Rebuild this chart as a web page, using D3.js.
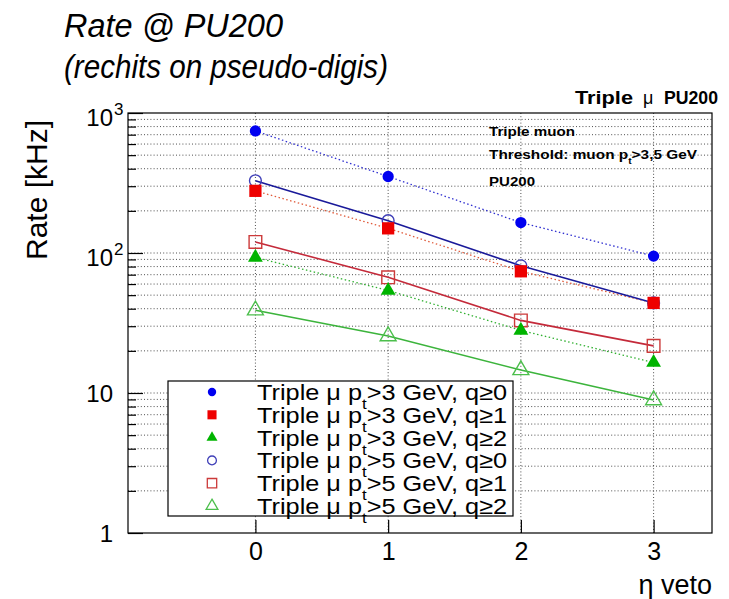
<!DOCTYPE html>
<html lang="en">
<head>
<meta charset="UTF-8">
<script src="https://d3js.org/d3.v7.min.js"></script>
<style>
  body { margin: 0; background: #fff; }
  text { font-family: "Liberation Sans", Arial, sans-serif; }
</style>
</head>
<body>
<script>
  // data
  const etaVeto = [0, 1, 2, 3];
  const pt3q0 = [745, 352, 165, 95];
  const pt3q1 = [278, 150, 74, 44];
  const pt3q2 = [93, 54, 28, 16.5];
  const pt5q0 = [328, 170, 81, 44];
  const pt5q1 = [120, 67, 33, 21.7];
  const pt5q2 = [39, 25.5, 14.6, 8.9];
  const seriesLabels = [
    ["3", "0"], ["3", "1"], ["3", "2"],
    ["5", "0"], ["5", "1"], ["5", "2"]
  ];
  const xTicks = [0, 1, 2, 3];
  const yMajor = [1, 10, 100, 1000];

  const W = 729, H = 599;
  const frame = { left: 128, right: 712, top: 113, bottom: 533 };

  const svg = d3.select("body").append("svg")
    .attr("width", W).attr("height", H);
  svg.append("rect").attr("width", W).attr("height", H).attr("fill", "#fff");

  const x = d3.scaleLinear().domain([-0.96, 3.44]).range([frame.left, frame.right]);
  const y = d3.scaleLog().domain([1, 1000]).range([frame.bottom, frame.top]);

  // all log ticks
  const yMinor = [];
  [1, 10, 100].forEach(d => { for (let k = 2; k <= 9; k++) yMinor.push(d * k); });

  // grid
  const grid = svg.append("g").attr("stroke", "#222").attr("stroke-width", 0.8)
    .attr("stroke-dasharray", "1,2.2");
  grid.selectAll(".hg").data(yMinor.concat([10, 100])).join("line")
    .attr("x1", frame.left).attr("x2", frame.right)
    .attr("y1", d => y(d)).attr("y2", d => y(d));
  grid.selectAll(".vg").data(xTicks).join("line")
    .attr("x1", d => x(d)).attr("x2", d => x(d))
    .attr("y1", frame.top).attr("y2", frame.bottom);

  // frame
  svg.append("rect")
    .attr("x", frame.left).attr("y", frame.top)
    .attr("width", frame.right - frame.left).attr("height", frame.bottom - frame.top)
    .attr("fill", "none").attr("stroke", "#000").attr("stroke-width", 1.2);

  // y ticks (inside, from left edge)
  const yMajAxis = svg.append("g").attr("transform", `translate(${frame.left},0)`)
    .call(d3.axisRight(y).tickValues(yMajor).tickSize(15).tickFormat(""));
  const yMinAxis = svg.append("g").attr("transform", `translate(${frame.left},0)`)
    .call(d3.axisRight(y).tickValues(yMinor).tickSize(8).tickFormat(""));
  [yMajAxis, yMinAxis].forEach(g => {
    g.select(".domain").remove();
    g.selectAll("line").attr("stroke", "#000").attr("stroke-width", 1.2);
  });

  // y labels with exponents
  const yLab = svg.append("g").attr("font-size", 24).attr("fill", "#000");
  yMajor.forEach(v => {
    const e = Math.round(Math.log10(v));
    const base = e <= 1 ? String(v) : "10";
    yLab.append("text").attr("x", 113).attr("y", y(v) + (e >= 2 ? 13 : 9))
      .attr("text-anchor", "end").text(base);
    if (e >= 2) {
      yLab.append("text").attr("x", 114).attr("y", y(v) + 2)
        .attr("font-size", 17).text(e);
    }
  });

  // x ticks (inside, from bottom) and labels
  const xAx = svg.append("g").attr("transform", `translate(0,${frame.bottom})`)
    .call(d3.axisTop(x).tickValues(xTicks).tickSize(13).tickFormat(""));
  xAx.select(".domain").remove();
  xAx.selectAll("line").attr("stroke", "#000").attr("stroke-width", 1.2);

  const xLab = svg.append("g").attr("transform", `translate(0,${frame.bottom})`)
    .call(d3.axisBottom(x).tickValues(xTicks).tickSize(0).tickPadding(9).tickFormat(d3.format("d")));
  xLab.select(".domain").remove();
  xLab.selectAll("text").attr("font-size", 25).attr("fill", "#000")
    .attr("font-family", "Liberation Sans, Arial, sans-serif");

  // axis titles
  svg.append("text").attr("x", 712).attr("y", 594).attr("text-anchor", "end")
    .attr("font-size", 27).text("η veto");
  svg.append("text").attr("transform", "translate(47,190) rotate(-90)")
    .attr("text-anchor", "middle").attr("font-size", 30).text("Rate [kHz]");

  // titles
  svg.append("text").attr("x", 64).attr("y", 37).attr("font-size", 33)
    .attr("font-style", "italic").attr("textLength", 219)
    .attr("lengthAdjust", "spacingAndGlyphs").text("Rate @ PU200");
  svg.append("text").attr("x", 64).attr("y", 78).attr("font-size", 33)
    .attr("font-style", "italic").attr("textLength", 324)
    .attr("lengthAdjust", "spacingAndGlyphs").text("(rechits on pseudo-digis)");

  // top-right tag
  svg.append("text").attr("x", 575).attr("y", 104).attr("font-size", 18)
    .attr("font-weight", "bold").attr("textLength", 58)
    .attr("lengthAdjust", "spacingAndGlyphs").text("Triple");
  svg.append("text").attr("x", 643).attr("y", 104).attr("font-size", 18).text("μ");
  svg.append("text").attr("x", 664).attr("y", 104).attr("font-size", 18)
    .attr("font-weight", "bold").attr("textLength", 54)
    .attr("lengthAdjust", "spacingAndGlyphs").text("PU200");

  // inner notes
  const notes = svg.append("g").attr("font-size", 13.5).attr("font-weight", "bold");
  notes.append("text").attr("x", 489).attr("y", 136)
    .attr("textLength", 86).attr("lengthAdjust", "spacingAndGlyphs").text("Triple muon");
  const th = notes.append("text").attr("x", 489).attr("y", 159)
    .attr("textLength", 208).attr("lengthAdjust", "spacingAndGlyphs");
  th.append("tspan").text("Threshold: muon p");
  th.append("tspan").attr("dy", 5).attr("font-size", 9).text("t");
  th.append("tspan").attr("dy", -5).text(">3,5 GeV");
  notes.append("text").attr("x", 489).attr("y", 186)
    .attr("textLength", 46).attr("lengthAdjust", "spacingAndGlyphs").text("PU200");

  // series
  const series = [
    { vals: pt3q0, sym: d3.symbolCircle, size: 100, fill: "#0000f0", stroke: "#0000f0", line: "#3030d0", dash: "1.5,2.5", open: false },
    { vals: pt3q1, sym: d3.symbolSquare, size: 150, fill: "#ee0000", stroke: "#ee0000", line: "#e05a3a", dash: "1.5,2.5", open: false },
    { vals: pt3q2, sym: d3.symbolTriangle, size: 95, fill: "#00b400", stroke: "#00b400", line: "#30b030", dash: "1.5,2.5", open: false },
    { vals: pt5q0, sym: d3.symbolCircle, size: 110, fill: "none", stroke: "#4040b8", line: "#1a1a9a", dash: null, open: true },
    { vals: pt5q1, sym: d3.symbolSquare, size: 160, fill: "none", stroke: "#cc3a3a", line: "#c42a3a", dash: null, open: true },
    { vals: pt5q2, sym: d3.symbolTriangle, size: 110, fill: "none", stroke: "#4cbf4c", line: "#3cb43c", dash: null, open: true }
  ];

  const line = d3.line().x(d => x(d[0])).y(d => y(d[1]));
  const plot = svg.append("g");
  series.forEach(s => {
    const pts = etaVeto.map((e, i) => [e, s.vals[i]]);
    plot.append("path").datum(pts).attr("d", line)
      .attr("fill", "none").attr("stroke", s.line)
      .attr("stroke-width", s.open ? 1.6 : 1.3)
      .attr("stroke-dasharray", s.dash);
  });
  // open markers first, filled ones on top
  [3, 4, 5, 0, 1, 2].forEach(k => {
    const s = series[k];
    plot.selectAll(null).data(etaVeto.map((e, i) => [e, s.vals[i]])).join("path")
      .attr("transform", d => `translate(${x(d[0])},${y(d[1])})`)
      .attr("d", d3.symbol().type(s.sym).size(s.size))
      .attr("fill", s.open ? "none" : s.fill)
      .attr("stroke", s.stroke).attr("stroke-width", s.open ? 1.4 : 0);
  });

  // legend
  const lg = svg.append("g");
  lg.append("rect").attr("x", 168).attr("y", 381).attr("width", 345).attr("height", 135)
    .attr("fill", "#fff").attr("stroke", "#000").attr("stroke-width", 1.2);
  series.forEach((s, i) => {
    const cy = 392 + i * 22.8;
    lg.append("path").attr("transform", `translate(212,${cy})`)
      .attr("d", d3.symbol().type(s.sym).size(s.size * 0.55))
      .attr("fill", s.open ? "none" : s.fill)
      .attr("stroke", s.stroke).attr("stroke-width", s.open ? 1.3 : 0);
    const t = lg.append("text").attr("x", 257).attr("y", cy + 8).attr("font-size", 22.5)
      .attr("textLength", 250).attr("lengthAdjust", "spacingAndGlyphs");
    t.append("tspan").text("Triple μ p");
    t.append("tspan").attr("dy", 9).attr("font-size", 15).text("t");
    t.append("tspan").attr("dy", -9).text(`>${seriesLabels[i][0]} GeV, q≥${seriesLabels[i][1]}`);
  });
</script>
</body>
</html>
